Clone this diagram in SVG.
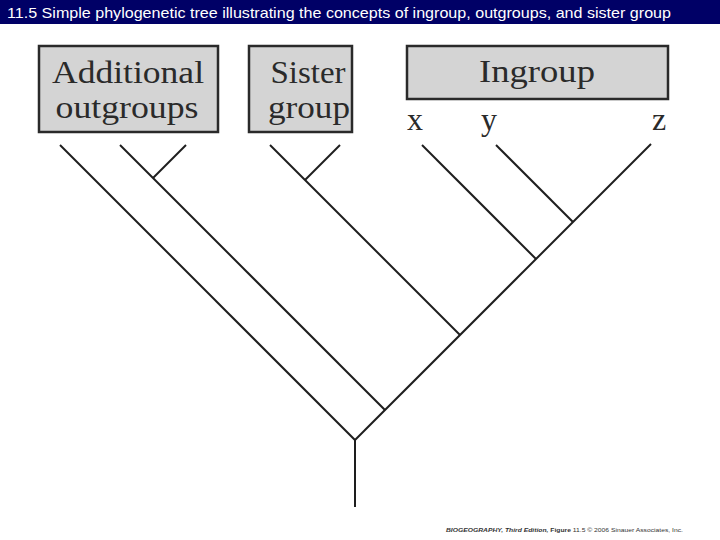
<svg xmlns="http://www.w3.org/2000/svg" width="720" height="540" viewBox="0 0 720 540">
<style>
.box{fill:#d4d4d4;stroke:#2a2a2a;stroke-width:2.5}
.lbl{font-family:"Liberation Serif","Times New Roman",serif;font-size:32px;fill:#2a2a2a;text-anchor:middle}
.tip{font-family:"Liberation Serif","Times New Roman",serif;font-size:32px;fill:#2a2a2a;text-anchor:middle}
.edge{stroke:#1e1e1e;stroke-width:2;fill:none;stroke-linecap:butt}
</style>
<rect x="0" y="0" width="720" height="540" fill="#ffffff"/>
<rect x="0" y="0" width="720" height="24" fill="#000066"/>
<text x="7" y="18" font-family="'Liberation Sans',Arial,sans-serif" font-size="15" fill="#ffffff" textLength="664" lengthAdjust="spacingAndGlyphs">11.5  Simple phylogenetic tree illustrating the concepts of ingroup, outgroups, and sister group</text>

<g id="outgroups">
<rect class="box" x="39" y="46" width="179" height="86"/>
<text class="lbl" x="128" y="83" textLength="152" lengthAdjust="spacingAndGlyphs">Additional</text>
<text class="lbl" x="127" y="118" textLength="143" lengthAdjust="spacingAndGlyphs">outgroups</text>
</g>
<g id="sister">
<rect class="box" x="249" y="46" width="103" height="86"/>
<text class="lbl" x="308" y="83" textLength="75" lengthAdjust="spacingAndGlyphs">Sister</text>
<text class="lbl" x="309" y="118" textLength="82" lengthAdjust="spacingAndGlyphs">group</text>
</g>
<g id="ingroup">
<rect class="box" x="407" y="46" width="261" height="53"/>
<text class="lbl" x="537" y="82" textLength="116" lengthAdjust="spacingAndGlyphs">Ingroup</text>
</g>
<g id="tip-x"><text class="tip" x="415" y="130">x</text></g>
<g id="tip-y"><text class="tip" x="489" y="130">y</text></g>
<g id="tip-z"><text class="tip" x="659" y="130">z</text></g>

<g id="connectors">
<line class="edge" x1="355" y1="507" x2="355" y2="440"/>
<line class="edge" x1="355" y1="440" x2="60" y2="145"/>
<line class="edge" x1="355" y1="440" x2="651" y2="144"/>
<line class="edge" x1="385" y1="410" x2="120" y2="145"/>
<line class="edge" x1="153" y1="178" x2="186" y2="145"/>
<line class="edge" x1="460" y1="335" x2="270" y2="145"/>
<line class="edge" x1="305" y1="180" x2="340" y2="145"/>
<line class="edge" x1="536" y1="259" x2="422" y2="145"/>
<line class="edge" x1="573" y1="222" x2="496" y2="145"/>
</g>

<text x="446" y="532" font-family="'Liberation Sans',Arial,sans-serif" font-size="5.5" fill="#333333" textLength="237" lengthAdjust="spacingAndGlyphs"><tspan font-weight="bold" font-style="italic">BIOGEOGRAPHY, Third Edition,</tspan> <tspan font-weight="bold">Figure</tspan> 11.5  © 2006 Sinauer Associates, Inc.</text>
</svg>
